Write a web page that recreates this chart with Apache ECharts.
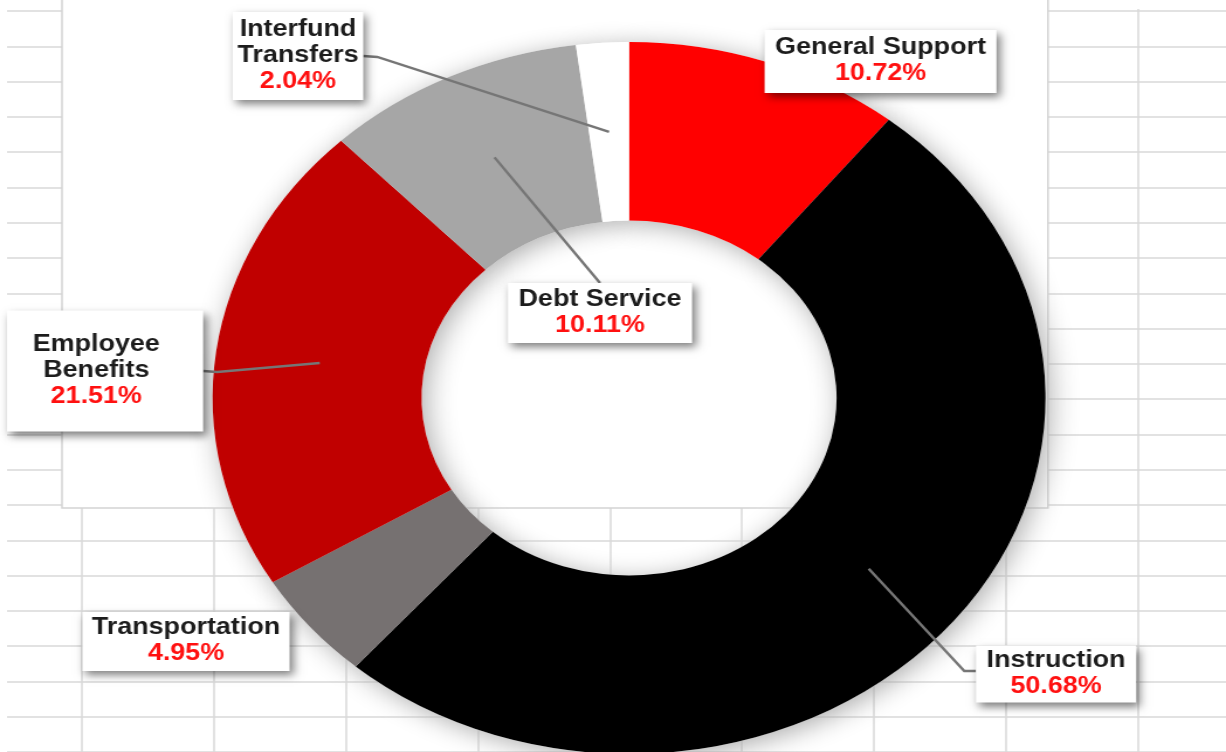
<!DOCTYPE html>
<html lang="en">
<head>
    <meta charset="UTF-8">
    <title>Budget by function</title>
    <script src="https://cdn.jsdelivr.net/npm/echarts@6/dist/echarts.min.js"></script>
    <style>
        html, body { margin: 0; padding: 0; background: #fff; overflow: hidden; }
        /* the source picture is a screenshot stretched sideways, so this one is too */
        #dom { width: 1048px; height: 752px; transform: scaleX(1.16985); transform-origin: 0 0; }
    </style>
</head>
<body>
<div id="dom"></div>
<script>
    var categories = ['General Support', 'Instruction', 'Transportation', 'Employee Benefits', 'Debt Service', 'Interfund Transfers'];
    var shares = [10.72, 50.68, 4.95, 21.51, 10.11, 2.04];
    var colors = ['#ff0000', '#000000', '#767171', '#c00000', '#a6a6a6', '#ffffff'];

    // label boxes: where they sit, their padding, and which side the leader line leaves from
    var labelCenter = [[752.7, 61.5], [902.7, 674], [159, 641.5], [89.8, 371], [512.9, 313], [254.7, 56]];
    var labelPad = [[5, 9, 6, 9], [2, 9, 3, 9], [3, 8, 4, 8], [21, 37, 22, 22], [4, 9, 4, 9], [5, 4, 5, 4]];
    var lineSide = [null, 'left', null, 'right', 'top', 'right'];
    var wrapped = {'Employee Benefits': 'Employee\nBenefits', 'Interfund Transfers': 'Interfund\nTransfers'};

    var center = [537.7, 398];
    var font = 'Liberation Sans, Arial, sans-serif';

    function ringData(color) {
        return categories.map(function (name, i) {
            return {name: name, value: shares[i], itemStyle: {color: color || colors[i]}};
        });
    }

    function labelData() {
        return categories.map(function (name, i) {
            return {
                name: name,
                value: shares[i],
                label: {padding: labelPad[i]},
                labelLine: {show: lineSide[i] != null}
            };
        });
    }

    function placeLabel(p) {
        var i = p.dataIndex;
        var c = labelCenter[i];
        var w = p.labelRect.width, h = p.labelRect.height;
        var out = {x: c[0], y: c[1], align: 'center', verticalAlign: 'middle'};
        var side = lineSide[i];
        if (side && p.labelLinePoints) {
            var start = p.labelLinePoints[0];
            var end, bend;
            if (side === 'right') {
                end = [c[0] + w / 2, c[1]];
                bend = [end[0] + 12, end[1] + 1];
            } else if (side === 'left') {
                end = [c[0] - w / 2, c[1] - 3];
                bend = [end[0] - 10, end[1]];
            } else {
                end = [c[0], c[1] - h / 2];
                bend = end;
            }
            out.labelLinePoints = [start, bend, end];
        }
        return out;
    }

    var dom = document.getElementById('dom');
    var myCharts = echarts.init(dom);

    var gridColor = '#d9d9d9';
    var rowH = 35.3, colW = 112.8;

    var option = {
        backgroundColor: '#fff',
        animation: false,
        // spreadsheet cells behind the chart
        grid: [
            {left: 6, right: 0, top: 11, height: rowH * 21},
            {left: 70.1, width: colW * 8, top: 9, bottom: 0}
        ],
        xAxis: [
            {gridIndex: 0, type: 'value', min: 0, max: 1, show: false},
            {gridIndex: 1, type: 'value', min: 0, max: 8, interval: 1,
                axisLine: {show: false}, axisTick: {show: false}, axisLabel: {show: false},
                splitLine: {show: true, lineStyle: {color: gridColor, width: 1.5}}}
        ],
        yAxis: [
            {gridIndex: 0, type: 'value', min: 0, max: 21, interval: 1, inverse: true,
                axisLine: {show: false}, axisTick: {show: false}, axisLabel: {show: false},
                splitLine: {show: true, lineStyle: {color: gridColor, width: 1.5}}},
            {gridIndex: 1, type: 'value', min: 0, max: 1, show: false}
        ],
        // the chart area of the sheet
        graphic: [{
            type: 'rect', z: 1,
            shape: {x: 53, y: -2, width: 842.8, height: 510},
            style: {fill: '#fff', stroke: '#d4d4d4', lineWidth: 1.5}
        }],
        series: [
            {
                // white halo that fades the cell lines near the ring
                type: 'pie', z: 2, silent: true, center: center, radius: [177.4, 356],
                label: {show: false}, labelLine: {show: false},
                itemStyle: {shadowBlur: 30, shadowColor: '#ffffff'},
                data: ringData('#ffffff')
            },
            {
                type: 'pie', z: 3, silent: true, center: center, radius: [177.4, 356],
                label: {show: false}, labelLine: {show: false},
                itemStyle: {shadowBlur: 24, shadowColor: 'rgba(0,0,0,0.32)', shadowOffsetX: 4, shadowOffsetY: 4},
                data: ringData('#ffffff')
            },
            {
                type: 'pie', z: 4, silent: true, center: center, radius: [177.4, 356],
                label: {show: false}, labelLine: {show: false},
                data: ringData()
            },
            {
                // invisible ring at mid radius, it carries the labels so leader lines end in the slice middle
                type: 'pie', z: 5, silent: true, center: center, radius: [0, 266.7],
                avoidLabelOverlap: false,
                itemStyle: {color: 'rgba(0,0,0,0)'},
                label: {
                    show: true,
                    position: 'outside',
                    backgroundColor: '#fff',
                    shadowColor: 'rgba(0,0,0,0.5)',
                    shadowBlur: 8,
                    shadowOffsetX: 3,
                    shadowOffsetY: 4,
                    align: 'center',
                    formatter: function (p) {
                        var name = wrapped[p.name] || p.name;
                        return '{n|' + name + '}\n{p|' + p.value.toFixed(2) + '%}';
                    },
                    rich: {
                        n: {fontFamily: font, fontSize: 23, fontWeight: 'bold', color: '#1c1c1c', lineHeight: 26, align: 'center'},
                        p: {fontFamily: font, fontSize: 23, fontWeight: 'bold', color: '#ff1010', lineHeight: 26, align: 'center'}
                    }
                },
                labelLine: {show: true, length: 10, length2: 10, lineStyle: {color: '#767676', width: 2.4}},
                labelLayout: placeLabel,
                data: labelData()
            }
        ]
    };
    myCharts.setOption(option);
</script>
</body>
</html>
